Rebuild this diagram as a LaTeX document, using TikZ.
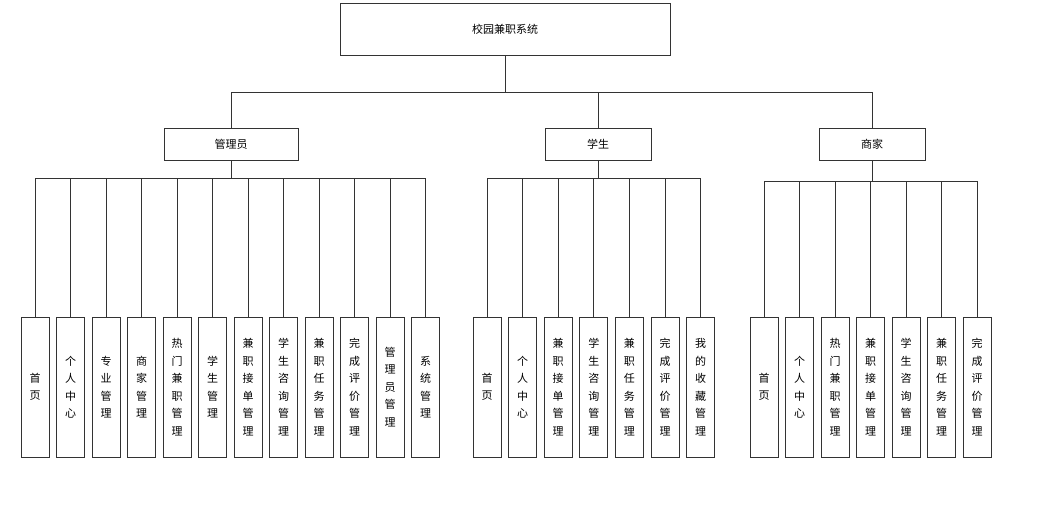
\documentclass[tikz,border=0pt]{standalone}
\usepackage{fontspec}
\newfontfamily\cjk{Noto Sans CJK SC}
\begin{document}
\begin{tikzpicture}[x=1pt,y=-1pt,
  box/.style={draw=black!80,line width=0.8pt,fill=white,inner sep=0pt,font=\cjk\fontsize{11}{13}\selectfont},
  leaf/.style={box,minimum width=28pt,minimum height=140pt,align=center,font=\cjk\fontsize{11}{17.5}\selectfont},
  ln/.style={draw=black!80,line width=0.8pt}]
\useasboundingbox (0,0) rectangle (1055,509);
\node[box,minimum width=330pt,minimum height=52pt] (root) at (505,29) {校园兼职系统};
\node[box,minimum width=134pt,minimum height=32pt] (a) at (231,144) {管理员};
\node[box,minimum width=106pt,minimum height=32pt] (s) at (598,144) {学生};
\node[box,minimum width=106pt,minimum height=32pt] (m) at (872,144) {商家};
\foreach \p in {a,s,m} \draw[ln] (root.south) -- ++(0,37) -| (\p.north);
\foreach [count=\i from 0] \t in {首\\页,个\\人\\中\\心,专\\业\\管\\理,商\\家\\管\\理,热\\门\\兼\\职\\管\\理,学\\生\\管\\理,兼\\职\\接\\单\\管\\理,学\\生\\咨\\询\\管\\理,兼\\职\\任\\务\\管\\理,完\\成\\评\\价\\管\\理,管\\理\\员\\管\\理,系\\统\\管\\理}{
  \node[leaf] (a\i) at (35+35.5*\i,387) {\t};
  \draw[ln] (a.south) -- ++(0,18) -| (a\i.north);}
\foreach [count=\i from 0] \t in {首\\页,个\\人\\中\\心,兼\\职\\接\\单\\管\\理,学\\生\\咨\\询\\管\\理,兼\\职\\任\\务\\管\\理,完\\成\\评\\价\\管\\理,我\\的\\收\\藏\\管\\理}{
  \node[leaf] (s\i) at (487+35.6*\i,387) {\t};
  \draw[ln] (s.south) -- ++(0,18) -| (s\i.north);}
\foreach [count=\i from 0] \t in {首\\页,个\\人\\中\\心,热\\门\\兼\\职\\管\\理,兼\\职\\接\\单\\管\\理,学\\生\\咨\\询\\管\\理,兼\\职\\任\\务\\管\\理,完\\成\\评\\价\\管\\理}{
  \node[leaf] (m\i) at (764+35.5*\i,387) {\t};
  \draw[ln] (m.south) -- ++(0,21) -| (m\i.north);}
\end{tikzpicture}
\end{document}
